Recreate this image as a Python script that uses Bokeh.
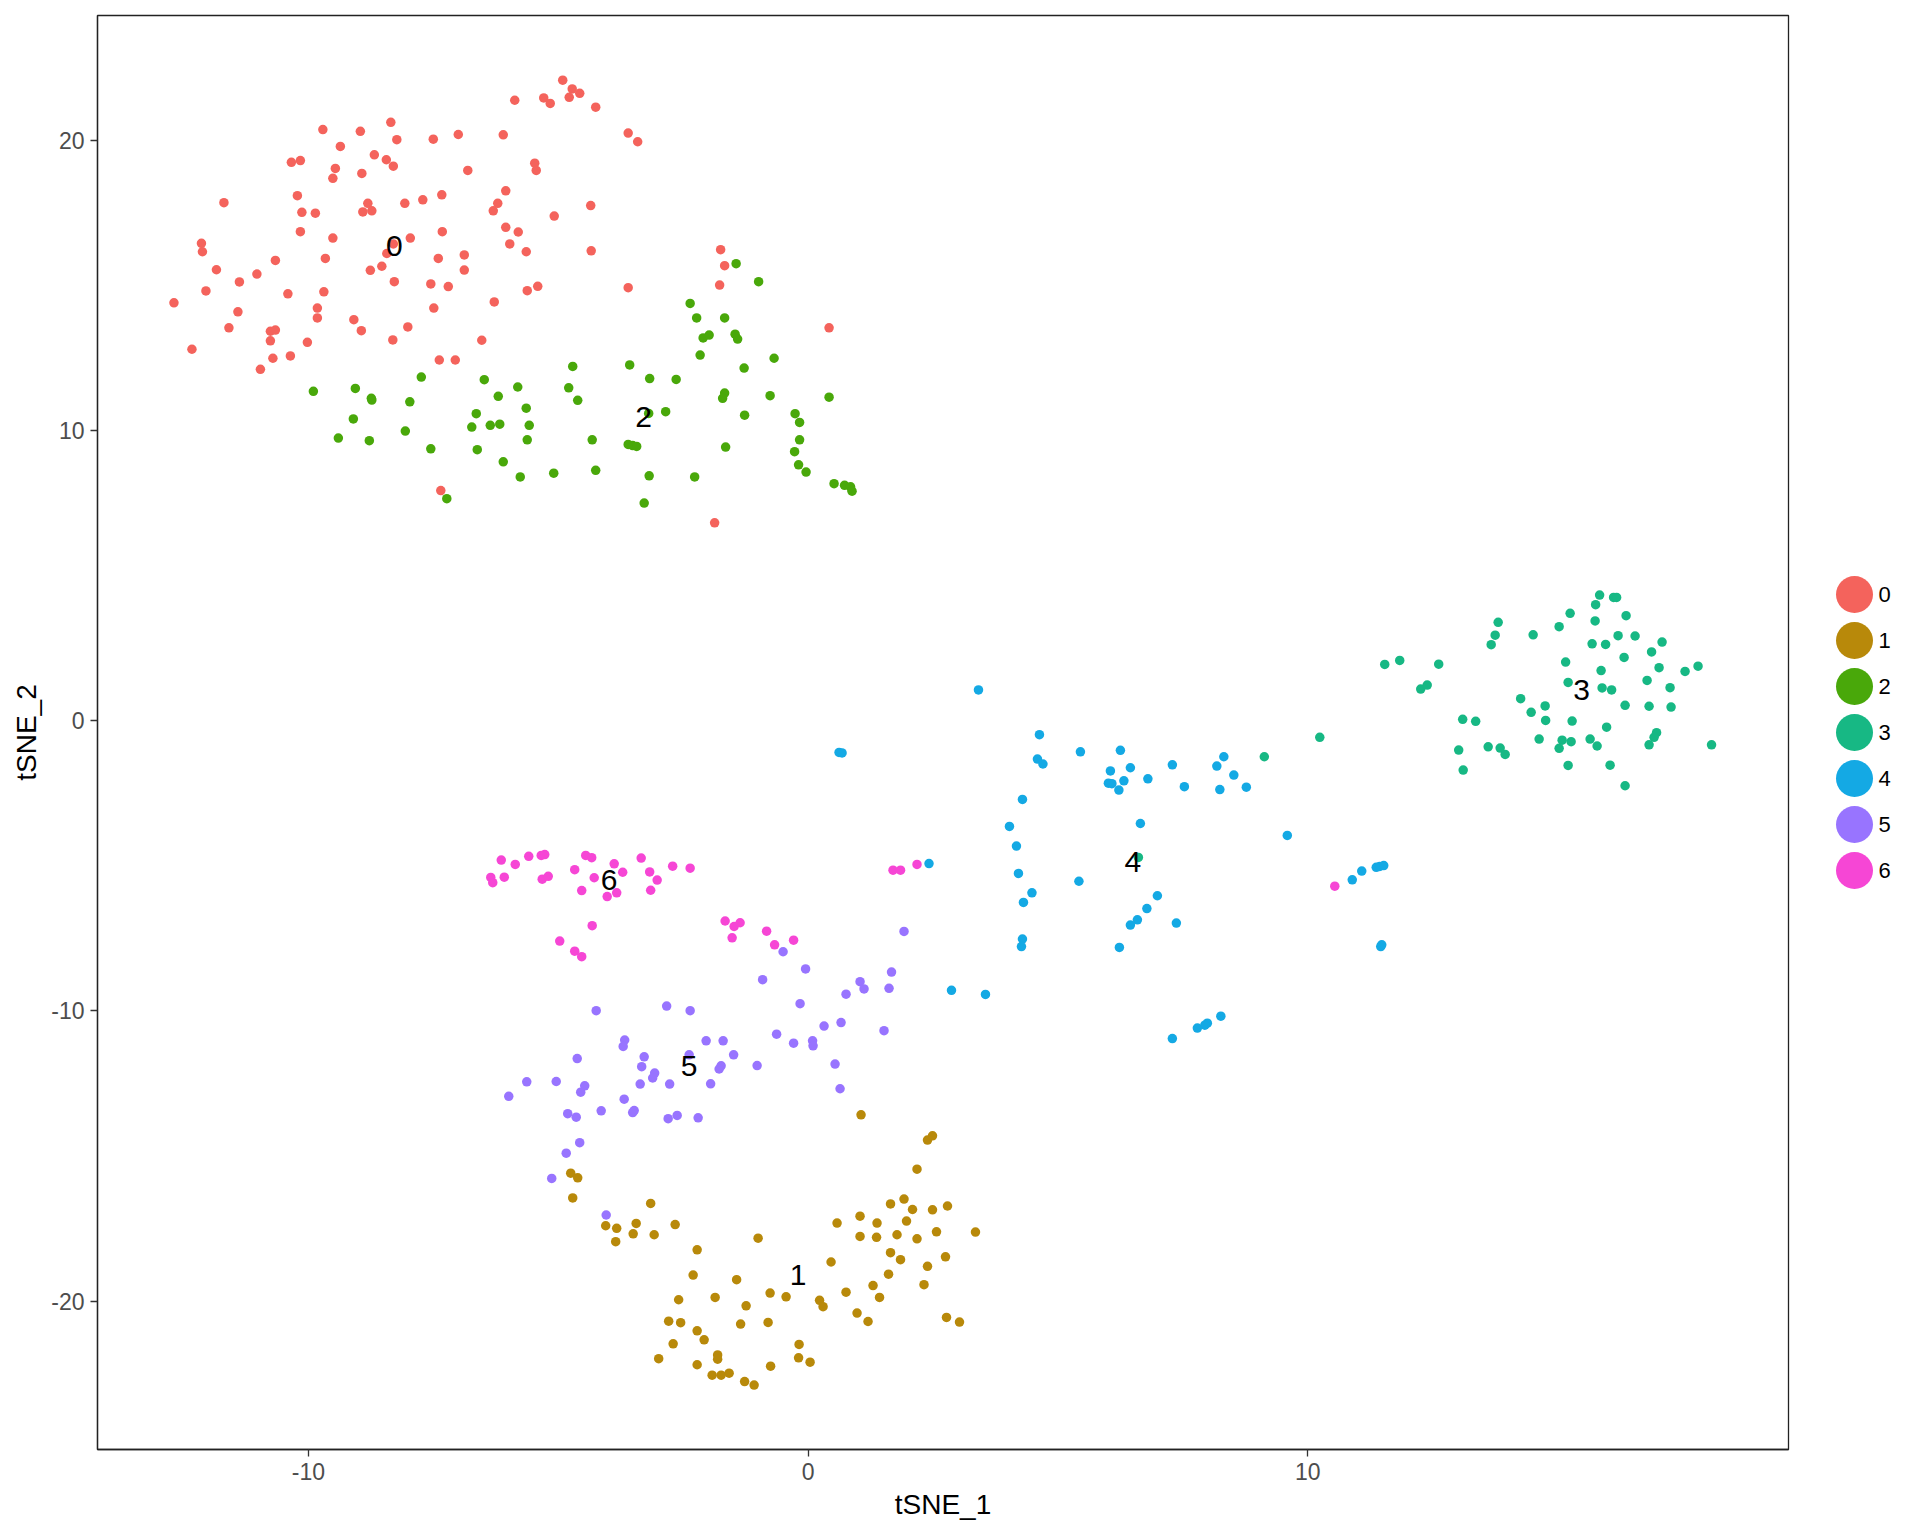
from bokeh.plotting import figure
from bokeh.models import Range1d, FixedTicker, ColumnDataSource
from bokeh.layouts import row
from bokeh.core.properties import value
from bokeh.embed import file_html
from bokeh.resources import INLINE

clusters = ["0", "1", "2", "3", "4", "5", "6"]
colors = ["#F4635C", "#B8890A", "#49A80A", "#17B884", "#14A9E4", "#9874FF", "#F646D5"]

c0_x = [-4.91,-4.72,-4.57,-4.78,-5.29,-5.16,-5.87,-4.25,-8.35,-9.71,
        -8.96,-8.23,-7.50,-7.00,-6.10,-3.60,-3.41,-9.36,-8.68,-8.44,
        -8.30,-10.34,-10.16,-9.46,-9.51,-8.93,-6.81,-5.47,-5.44,-6.05,
        -10.22,-11.69,-10.13,-9.86,-8.81,-8.91,-8.73,-8.07,-7.71,-7.33,
        -6.21,-6.30,-4.35,-5.08,-10.16,-9.51,-7.96,-8.30,-7.32,-6.05,
        -5.80,-5.97,-5.64,-4.34,-12.14,-12.12,-8.43,-10.66,-9.66,-7.40,
        -6.88,-6.88,-11.84,-11.03,-11.38,-8.76,-8.53,-8.28,-7.55,-7.20,
        -12.05,-10.41,-9.69,-5.62,-5.41,-3.60,-12.69,-11.41,-9.82,-9.82,
        -7.49,-6.28,-11.59,-10.76,-10.66,-10.76,-10.02,-9.09,-8.94,-8.01,
        -8.31,-6.53,-12.33,-10.71,-10.36,-10.96,-7.38,-7.06,
        -1.75,-1.67,-1.77,0.42,-7.35,-1.87]
c0_y = [22.07,21.77,21.62,21.48,21.46,21.27,21.38,21.14,20.62,20.37,
        20.31,20.02,20.04,20.20,20.19,20.25,19.95,19.79,19.50,19.33,
        19.11,19.24,19.30,19.03,18.69,18.86,18.96,19.21,18.96,18.26,
        18.09,17.85,17.52,17.49,17.83,17.53,17.57,17.83,17.95,18.12,
        17.83,17.57,17.75,17.39,16.85,16.63,16.63,16.43,16.85,17.00,
        16.84,16.43,16.16,16.19,16.45,16.16,16.10,15.86,15.93,15.93,
        16.05,15.53,15.54,15.39,15.12,15.52,15.66,15.13,15.05,14.96,
        14.81,14.71,14.78,14.82,14.97,14.92,14.40,14.09,14.22,13.88,
        14.22,14.43,13.54,13.42,13.46,13.09,13.04,13.82,13.44,13.57,
        13.12,13.11,12.80,12.49,12.57,12.11,12.43,12.43,
        16.23,15.68,15.01,13.54,7.93,6.82]

c1_x = [1.06,2.39,2.49,2.18,-4.75,-4.61,
        -4.71,-3.15,-4.05,-3.83,-3.44,-3.50,-3.85,-3.08,-2.66,-2.22,
        -2.30,-2.59,-1.86,-1.43,-1.00,-1.24,-0.76,-0.44,-0.80,-1.35,
        -2.79,-2.55,-2.22,-2.08,-2.70,-2.99,-2.22,-1.81,-1.81,-1.92,
        -1.74,-1.58,-1.27,-1.08,-0.75,-0.18,-0.19,0.04,0.23,0.30,
        0.46,0.58,0.76,0.98,1.20,1.04,1.04,1.38,1.37,1.65,
        1.92,2.09,1.97,1.78,2.18,2.49,2.79,2.57,3.35,1.65,
        1.85,1.61,1.30,1.43,2.39,2.75,2.32,2.77,3.03]
c1_y = [-13.58,-14.45,-14.30,-15.45,-15.59,-15.75,
        -16.44,-16.63,-17.40,-17.49,-17.32,-17.68,-17.95,-17.71,-17.36,-18.23,
        -19.10,-19.95,-19.87,-19.26,-17.83,-20.16,-19.72,-19.85,-20.73,-20.79,
        -20.69,-20.74,-21.02,-21.33,-21.47,-21.98,-22.19,-21.85,-22.00,-22.55,
        -22.55,-22.48,-22.77,-22.89,-22.24,-21.49,-21.95,-22.10,-19.97,-20.19,
        -18.65,-17.31,-19.69,-20.41,-20.70,-17.07,-17.77,-17.31,-17.80,-16.65,
        -16.48,-16.84,-17.24,-17.71,-17.85,-16.85,-16.72,-17.61,-17.62,-18.33,
        -18.57,-19.07,-19.46,-19.87,-18.80,-18.47,-19.43,-20.56,-20.72]

c2_x = [-1.44,-0.99,-2.36,-2.23,-1.67,-2.10,-1.98,-1.46,-1.41,-2.16,
        -0.68,-1.28,-4.71,-3.57,-3.17,-2.64,-1.67,-1.71,-0.76,0.42,
        -1.27,-0.26,-0.17,-0.17,-0.27,-0.19,-0.04,0.52,0.73,0.85,
        0.88,-1.65,-2.27,-3.18,-3.28,-2.85,-3.19,-3.60,-3.51,-3.43,
        -4.32,-4.25,-5.09,-5.76,-6.10,-4.79,-4.61,-6.48,-5.81,-6.20,
        -5.64,-6.64,-6.73,-6.36,-6.17,-5.58,-5.62,-6.62,-7.55,-7.74,
        -7.97,-8.06,-8.78,-9.40,-9.10,-8.74,-8.73,-9.06,-9.90,-7.23]
c2_y = [15.75,15.13,14.38,13.88,13.88,13.19,13.29,13.32,13.15,12.60,
        12.49,12.15,12.21,12.26,11.79,11.76,11.29,11.11,11.20,11.15,
        10.53,10.58,10.28,9.68,9.27,8.82,8.57,8.17,8.11,8.06,
        7.91,9.43,8.40,8.44,7.50,10.65,10.59,9.52,9.48,9.45,
        9.68,8.63,8.53,8.40,8.92,11.47,11.04,11.75,11.50,11.18,
        10.77,10.58,10.12,10.18,10.22,10.18,9.68,9.34,9.37,11.84,
        10.99,9.98,9.65,9.74,10.40,11.11,11.05,11.45,11.35,7.65]

c3_x = [11.54,11.84,12.62,12.26,12.39,13.81,13.75,13.67,14.51,15.03,
        15.25,15.84,15.76,16.12,16.18,15.75,16.37,16.21,16.55,15.69,
        15.96,17.09,16.88,16.33,15.16,15.87,17.03,17.55,17.81,16.79,
        17.25,15.21,15.89,16.08,16.35,16.83,17.27,14.26,14.75,14.47,
        14.76,15.29,15.98,13.10,13.36,14.63,15.09,15.27,15.03,15.65,
        15.79,16.98,16.93,16.83,18.08,13.02,13.61,13.85,13.95,13.11,
        15.21,16.05,16.35,10.24,9.13,6.61]
c3_y = [1.94,2.08,1.95,1.09,1.23,3.39,2.95,2.62,2.96,3.24,
        3.70,4.33,4.00,4.25,4.25,3.44,3.62,2.93,2.92,2.65,
        2.63,2.71,2.37,2.18,2.02,1.73,1.83,1.70,1.88,1.39,
        1.14,1.32,1.13,1.06,0.53,0.50,0.47,0.76,0.51,0.29,
        0.01,-0.01,-0.22,0.05,-0.02,-0.63,-0.67,-0.72,-0.95,-0.63,
        -0.87,-0.41,-0.57,-0.83,-0.83,-1.01,-0.90,-0.94,-1.16,-1.70,
        -1.54,-1.53,-2.24,-0.57,-1.24,-4.71]

c4_x = [3.41,0.62,0.68,4.63,4.59,4.70,5.45,6.25,6.45,6.05,
        6.01,6.08,6.32,6.22,6.80,7.29,7.53,8.32,8.18,8.52,
        8.24,8.77,4.29,4.03,6.65,9.59,4.17,2.42,4.21,5.42,
        4.48,4.31,6.99,6.78,6.59,6.45,7.37,6.23,4.29,4.27,
        2.87,3.55,8.26,7.99,7.94,7.79,7.29,
        10.89,11.08,11.37,11.44,11.52,11.46,11.48]
c4_y = [1.06,-1.09,-1.11,-0.48,-1.32,-1.49,-1.07,-1.02,-1.62,-1.73,
        -2.15,-2.17,-2.07,-2.39,-2.00,-1.52,-2.27,-1.24,-1.56,-1.87,
        -2.37,-2.29,-2.71,-3.64,-3.54,-3.95,-4.32,-4.92,-5.26,-5.53,
        -5.93,-6.26,-6.03,-6.47,-6.86,-7.04,-6.97,-7.81,-7.52,-7.78,
        -9.29,-9.43,-10.18,-10.42,-10.49,-10.59,-10.95,
        -5.48,-5.18,-5.05,-5.02,-4.99,-7.78,-7.72]

c5_x = [-0.50,1.92,-0.05,-0.91,1.67,1.04,1.12,1.62,0.76,-0.16,
        -4.24,-2.83,-2.36,0.32,0.66,1.52,-0.63,
        -3.67,-3.70,-2.04,-1.70,-0.29,0.09,0.10,
        -4.62,-3.28,-3.33,-3.07,-3.11,-2.38,-1.49,-1.74,-1.78,-1.02,
        0.54,0.64,-5.63,-5.04,-4.47,-4.55,-5.99,-3.36,-2.77,-1.95,
        -3.68,-4.81,-4.64,-4.14,-3.51,-3.48,-2.80,-2.62,-2.20,-4.57,
        -4.84,-5.13,-4.04]
c5_y = [-7.96,-7.26,-8.55,-8.92,-8.66,-8.99,-9.24,-9.22,-9.42,-9.75,
        -9.99,-9.83,-9.99,-10.52,-10.40,-10.68,-10.80,
        -11.00,-11.22,-11.03,-11.03,-11.11,-11.03,-11.20,
        -11.64,-11.58,-11.92,-12.14,-12.31,-11.51,-11.51,-11.89,-12.00,-11.88,
        -11.83,-12.68,-12.44,-12.43,-12.58,-12.80,-12.94,-12.52,-12.52,-12.51,
        -13.04,-13.54,-13.66,-13.44,-13.50,-13.43,-13.71,-13.60,-13.68,-14.54,
        -14.90,-15.77,-17.03]

c6_x = [-6.14,-5.86,-5.59,-5.34,-5.27,-6.35,-6.31,-6.08,-5.32,-5.20,
        -4.67,-4.45,-4.33,-3.88,-3.71,-4.28,-4.53,-4.02,-3.83,-3.34,
        -3.17,-3.02,-3.15,-2.71,-2.36,-4.32,-4.97,-4.67,-4.53,-1.66,
        -1.48,-1.36,-1.52,-0.83,-0.67,-0.29,1.70,1.85,2.18,10.54]
c6_y = [-4.80,-4.95,-4.67,-4.64,-4.61,-5.40,-5.58,-5.39,-5.46,-5.36,
        -5.13,-4.64,-4.72,-4.93,-5.22,-5.41,-5.85,-6.06,-5.93,-4.73,
        -5.21,-5.49,-5.84,-5.01,-5.08,-7.06,-7.59,-7.94,-8.13,-6.90,
        -7.09,-6.96,-7.48,-7.25,-7.72,-7.56,-5.15,-5.15,-4.95,-5.70]

label_x = [-8.28, -0.20, -3.29, 15.48, 6.50, -2.38, -3.98]
label_y = [16.37, -19.11, 10.46, 1.05, -4.85, -11.90, -5.49]

x_ticks = [-10, 0, 10]
y_ticks = [-20, -10, 0, 10, 20]

xs = [c0_x, c1_x, c2_x, c3_x, c4_x, c5_x, c6_x]
ys = [c0_y, c1_y, c2_y, c3_y, c4_y, c5_y, c6_y]

FONT = "Liberation Sans"
H = 1530

p = figure(width=1798, height=H, output_backend="svg", toolbar_location=None,
           x_range=Range1d(-14.22, 19.62), y_range=Range1d(-25.11, 24.30),
           min_border_left=97, min_border_right=10, min_border_top=15, min_border_bottom=81,
           x_axis_label="tSNE_1", y_axis_label="tSNE_2")
p.background_fill_color = "white"
p.border_fill_color = "white"
p.outline_line_color = "#222222"
p.outline_line_width = 1.3
p.xgrid.visible = False
p.ygrid.visible = False
p.xaxis.ticker = FixedTicker(ticks=x_ticks)
p.yaxis.ticker = FixedTicker(ticks=y_ticks)
p.xaxis.major_label_overrides = {t: str(t) for t in x_ticks}
p.yaxis.major_label_overrides = {t: str(t) for t in y_ticks}
for ax in (p.xaxis, p.yaxis):
    ax.axis_line_color = "#222222"
    ax.axis_line_width = 1.3
    ax.major_tick_line_color = "#333333"
    ax.major_tick_line_width = 1.3
    ax.major_tick_out = 7
    ax.major_tick_in = 0
    ax.minor_tick_line_color = None
    ax.major_label_text_font = FONT
    ax.major_label_text_font_size = "23px"
    ax.major_label_text_color = "#4D4D4D"
    ax.major_label_standoff = 6
    ax.axis_label_text_font = FONT
    ax.axis_label_text_font_size = "28px"
    ax.axis_label_text_font_style = "normal"
    ax.axis_label_text_color = "black"
    ax.axis_label_standoff = 6

for cx, cy, col in zip(xs, ys, colors):
    p.scatter(x=cx, y=cy, size=9.5, marker="circle", fill_color=col, line_color=None)

p.text(x=label_x, y=label_y, text=clusters, text_align="center", text_baseline="middle",
       text_font=value(FONT), text_font_size="30px", text_color="black")

# legend panel (its frame is aligned vertically with the main frame by the row layout)
leg = figure(width=114, height=H, output_backend="svg", toolbar_location=None,
             x_range=Range1d(0, 114), y_range=Range1d(18.587, -12.587),
             min_border_left=0, min_border_right=0, min_border_top=0, min_border_bottom=0)
leg.outline_line_color = None
leg.xaxis.visible = False
leg.yaxis.visible = False
leg.xgrid.visible = False
leg.ygrid.visible = False
leg.border_fill_color = "white"
idx = list(range(len(clusters)))
src = ColumnDataSource(dict(y=idx, c=colors, t=clusters, x=[56] * len(idx), tx=[80] * len(idx)))
leg.scatter(x="x", y="y", size=37, marker="circle", fill_color="c", line_color=None, source=src)
leg.text(x="tx", y="y", text="t", text_baseline="middle", text_align="left",
         text_font=value(FONT), text_font_size="22px", text_color="black", source=src)

layout = row(p, leg)
open("out.html", "w").write(file_html(layout, INLINE))
